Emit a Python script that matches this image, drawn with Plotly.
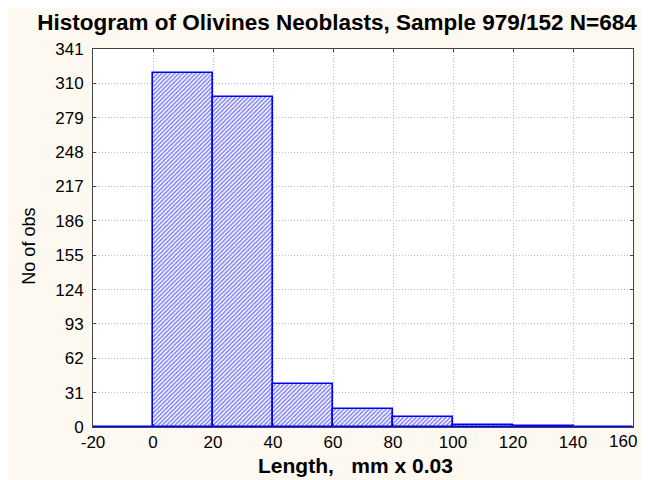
import plotly.graph_objects as go

bin_left = [-20, 0, 20, 40, 60, 80, 100, 120, 140]
counts = [0, 319, 298, 39, 16, 9, 2, 1, 0]
bin_width = 20
y_ticks = [0, 31, 62, 93, 124, 155, 186, 217, 248, 279, 310, 341]
x_ticks = [-20, 0, 20, 40, 60, 80, 100, 120, 140, 160]

title_text = "Histogram of Olivines Neoblasts, Sample 979/152 N=684"
x_title = "Length,\u00a0\u00a0 mm x 0.03"
y_title = "No of obs"

# the page adds an 8px body margin, so figure coords = screen coords - 8
OFF = 8
W, H = 650, 480
L, R, T, B = 93.3 - OFF, 632.7 - OFF, 49.3 - OFF, 426.7 - OFF
pw, ph = R - L, B - T


def px_x(sx):
    return (sx - OFF - L) / pw


def px_y(sy):
    return (B - (sy - OFF)) / ph


# the last x label is drawn separately, pulled left so it stays on the page
x_ticktext = [str(v) for v in x_ticks]
last_label = x_ticktext[-1]
x_ticktext[-1] = ""

fig = go.Figure()
fig.add_trace(go.Bar(
    x=bin_left, y=counts, width=bin_width, offset=0,
    marker=dict(color="white",
                line=dict(color="#0000FF", width=1.6),
                pattern=dict(shape="/", fgcolor="#0000ee", bgcolor="white",
                             size=3, solidity=0.5)),
    hoverinfo="x+y",
))

font_family = "Liberation Sans, Arial, sans-serif"
fig.update_layout(
    width=W, height=H, autosize=False,
    paper_bgcolor="#FDF9F0", plot_bgcolor="white",
    margin=dict(l=L, r=W - R, t=T, b=H - B, autoexpand=False),
    showlegend=False,
    bargap=0,
    font=dict(family=font_family, size=17, color="black"),
    title=dict(text="<b>" + title_text + "</b>", x=px_x(337), xanchor="center",
               xref="paper", y=1 - (22.5 - OFF) / H, yanchor="middle", yref="container",
               font=dict(size=22.5, color="black", family=font_family)),
)
fig.update_xaxes(range=[-20, 160], tickvals=x_ticks, ticktext=x_ticktext,
                 showgrid=True, automargin=False,
                 gridcolor="#bdbdbd", griddash="1px,2px", gridwidth=1,
                 showline=True, linecolor="#444444", linewidth=1, mirror="ticks",
                 ticks="inside", ticklen=3, tickcolor="#444444", zeroline=False,
                 tickfont=dict(size=17))
fig.update_yaxes(range=[0, 341], tickvals=y_ticks, showgrid=True, automargin=False,
                 gridcolor="#bdbdbd", griddash="1px,2px", gridwidth=1,
                 showline=True, linecolor="#444444", linewidth=1, mirror="ticks",
                 ticks="inside", ticklen=3, tickcolor="#444444",
                 zeroline=True, zerolinecolor="#0000FF", zerolinewidth=2,
                 tickfont=dict(size=17), ticklabelstandoff=5)

fig.add_annotation(text=last_label, xref="x", yref="paper",
                   x=x_ticks[-1], y=0, xshift=-10, yshift=-14,
                   xanchor="center", yanchor="middle", showarrow=False,
                   font=dict(size=17, family=font_family, color="black"))
fig.add_annotation(text="<b>" + x_title + "</b>", xref="paper", yref="paper",
                   x=px_x(356), y=px_y(465),
                   xanchor="center", yanchor="middle", showarrow=False,
                   font=dict(size=21, family=font_family, color="black"))
fig.add_annotation(text=y_title, xref="paper", yref="paper",
                   x=px_x(29), y=px_y(246),
                   xanchor="center", yanchor="middle", showarrow=False,
                   textangle=-90,
                   font=dict(size=18, family=font_family, color="black"))

fig.write_html("out.html")
